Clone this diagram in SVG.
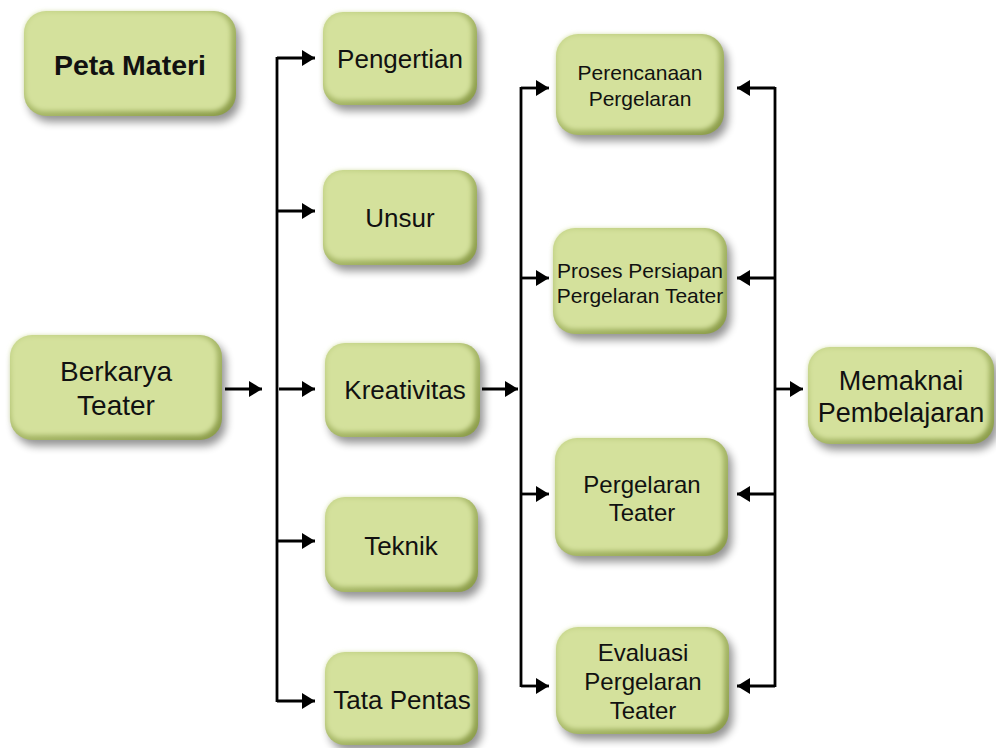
<svg xmlns="http://www.w3.org/2000/svg" width="996" height="748" viewBox="0 0 996 748">
<defs>
  <filter id="shadow" x="-20%" y="-20%" width="140%" height="150%">
    <feGaussianBlur stdDeviation="4.5"/>
  </filter>
  <filter id="soft" x="-10%" y="-10%" width="120%" height="120%">
    <feGaussianBlur stdDeviation="2.5"/>
  </filter>
  <linearGradient id="edge" x1="0" y1="0" x2="1" y2="1">
    <stop offset="0" stop-color="#c6d68a"/>
    <stop offset="1" stop-color="#8a9b48"/>
  </linearGradient>
  <marker id="arr" markerUnits="userSpaceOnUse" markerWidth="14" markerHeight="16" refX="13" refY="8" orient="auto">
    <path d="M0,0 L13,8 L0,16 Z" fill="#000"/>
  </marker>
  <style>
    .sh { fill: #000; opacity: 0.42; filter: url(#shadow); }
    .ed { fill: url(#edge); }
    .bd { fill: #d4e19c; filter: url(#soft); }
    text { font-family: "Liberation Sans", Arial, sans-serif; fill: #111; text-anchor: middle; }
    .t26 { font-size: 26px; }
    .t28 { font-size: 28px; }
    .t27 { font-size: 27px; }
    .t21 { font-size: 21px; }
    .t24 { font-size: 24px; }
    .bold { font-weight: bold; font-size: 28.5px; }
    .ln { stroke: #000; stroke-width: 2.8; fill: none; }
    .ar { stroke: #000; stroke-width: 2.8; fill: none; marker-end: url(#arr); }
  </style>
</defs>

<g id="connectors">
  <line class="ar" x1="225" y1="389" x2="262" y2="389"/>
  <line class="ln" x1="277" y1="57" x2="277" y2="702"/>
  <line class="ar" x1="277" y1="58" x2="315" y2="58"/>
  <line class="ar" x1="277" y1="211" x2="315" y2="211"/>
  <line class="ar" x1="279" y1="389" x2="315" y2="389"/>
  <line class="ar" x1="277" y1="541" x2="315" y2="541"/>
  <line class="ar" x1="277" y1="701" x2="315" y2="701"/>

  <line class="ar" x1="482" y1="389" x2="518" y2="389"/>
  <line class="ln" x1="521" y1="87" x2="521" y2="687"/>
  <line class="ar" x1="521" y1="88" x2="549" y2="88"/>
  <line class="ar" x1="521" y1="278" x2="549" y2="278"/>
  <line class="ar" x1="521" y1="494" x2="549" y2="494"/>
  <line class="ar" x1="521" y1="686" x2="549" y2="686"/>

  <line class="ln" x1="775" y1="87" x2="775" y2="687"/>
  <line class="ar" x1="775" y1="88" x2="737" y2="88"/>
  <line class="ar" x1="775" y1="278" x2="737" y2="278"/>
  <line class="ar" x1="775" y1="494" x2="737" y2="494"/>
  <line class="ar" x1="775" y1="686" x2="737" y2="686"/>
  <line class="ar" x1="775" y1="389" x2="803" y2="389"/>
</g>

<g id="peta-materi">
  <rect class="sh" x="28" y="17" width="212" height="105" rx="22"/>
  <rect class="ed" x="24" y="11" width="212" height="105" rx="22"/>
  <rect class="bd" x="25" y="12" width="206" height="99" rx="20"/>
  <text class="bold" x="130" y="75">Peta Materi</text>
</g>

<g id="berkarya-teater">
  <rect class="sh" x="14" y="341" width="212" height="105" rx="22"/>
  <rect class="ed" x="10" y="335" width="212" height="105" rx="22"/>
  <rect class="bd" x="11" y="336" width="206" height="99" rx="20"/>
  <text class="t28" x="116" y="381">Berkarya</text>
  <text class="t28" x="116" y="415">Teater</text>
</g>

<g id="pengertian">
  <rect class="sh" x="327" y="18" width="154" height="93" rx="20"/>
  <rect class="ed" x="323" y="12" width="154" height="93" rx="20"/>
  <rect class="bd" x="324" y="13" width="148" height="87" rx="18"/>
  <text class="t26" x="400" y="68">Pengertian</text>
</g>

<g id="unsur">
  <rect class="sh" x="327" y="176" width="154" height="95" rx="20"/>
  <rect class="ed" x="323" y="170" width="154" height="95" rx="20"/>
  <rect class="bd" x="324" y="171" width="148" height="89" rx="18"/>
  <text class="t26" x="400" y="227">Unsur</text>
</g>

<g id="kreativitas">
  <rect class="sh" x="329" y="349" width="155" height="94" rx="20"/>
  <rect class="ed" x="325" y="343" width="155" height="94" rx="20"/>
  <rect class="bd" x="326" y="344" width="149" height="88" rx="18"/>
  <text class="t26" x="405" y="399">Kreativitas</text>
</g>

<g id="teknik">
  <rect class="sh" x="329" y="503" width="153" height="95" rx="20"/>
  <rect class="ed" x="325" y="497" width="153" height="95" rx="20"/>
  <rect class="bd" x="326" y="498" width="147" height="89" rx="18"/>
  <text class="t26" x="401" y="555">Teknik</text>
</g>

<g id="tata-pentas">
  <rect class="sh" x="329" y="658" width="153" height="93" rx="20"/>
  <rect class="ed" x="325" y="652" width="153" height="93" rx="20"/>
  <rect class="bd" x="326" y="653" width="147" height="87" rx="18"/>
  <text class="t26" x="402" y="709">Tata Pentas</text>
</g>

<g id="perencanaan-pergelaran">
  <rect class="sh" x="560" y="40" width="168" height="101" rx="22"/>
  <rect class="ed" x="556" y="34" width="168" height="101" rx="22"/>
  <rect class="bd" x="557" y="35" width="162" height="95" rx="20"/>
  <text class="t21" x="640" y="80">Perencanaan</text>
  <text class="t21" x="640" y="106">Pergelaran</text>
</g>

<g id="proses-persiapan">
  <rect class="sh" x="557" y="234" width="174" height="106" rx="22"/>
  <rect class="ed" x="553" y="228" width="174" height="106" rx="22"/>
  <rect class="bd" x="554" y="229" width="168" height="100" rx="20"/>
  <text class="t21" x="640" y="278">Proses Persiapan</text>
  <text class="t21" x="640" y="303">Pergelaran Teater</text>
</g>

<g id="pergelaran-teater">
  <rect class="sh" x="559" y="444" width="173" height="118" rx="22"/>
  <rect class="ed" x="555" y="438" width="173" height="118" rx="22"/>
  <rect class="bd" x="556" y="439" width="167" height="112" rx="20"/>
  <text class="t24" x="642" y="493">Pergelaran</text>
  <text class="t24" x="642" y="521">Teater</text>
</g>

<g id="evaluasi-pergelaran-teater">
  <rect class="sh" x="560" y="633" width="173" height="107" rx="22"/>
  <rect class="ed" x="556" y="627" width="173" height="107" rx="22"/>
  <rect class="bd" x="557" y="628" width="167" height="101" rx="20"/>
  <text class="t24" x="643" y="661">Evaluasi</text>
  <text class="t24" x="643" y="690">Pergelaran</text>
  <text class="t24" x="643" y="719">Teater</text>
</g>

<g id="memaknai-pembelajaran">
  <rect class="sh" x="812" y="353" width="186" height="97" rx="22"/>
  <rect class="ed" x="808" y="347" width="186" height="97" rx="22"/>
  <rect class="bd" x="809" y="348" width="180" height="91" rx="20"/>
  <text class="t27" x="901" y="390">Memaknai</text>
  <text class="t27" x="901" y="422">Pembelajaran</text>
</g>
</svg>
